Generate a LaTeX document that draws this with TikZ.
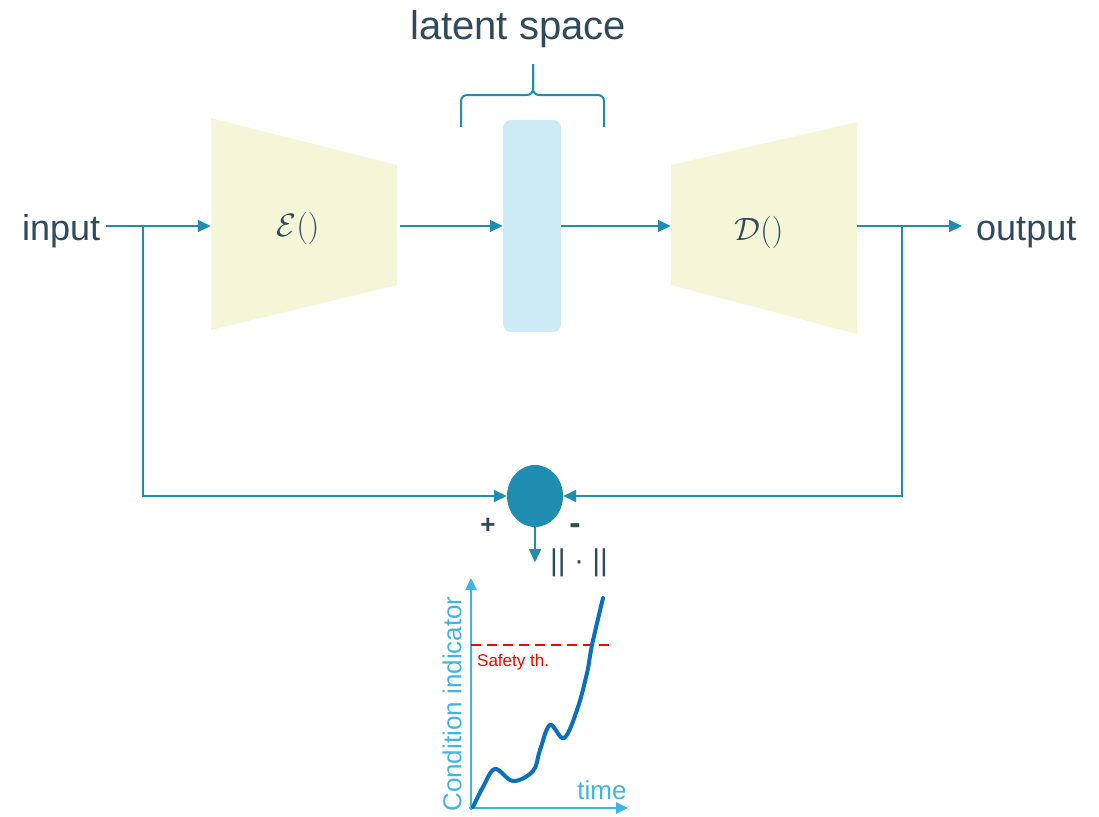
\documentclass[tikz,border=0pt]{standalone}
\usepackage{fontspec}
\setmainfont{Liberation Sans}
\usetikzlibrary{arrows.meta,calc,shapes.geometric}
\definecolor{ink}{HTML}{2E4A5B}
\definecolor{flow}{HTML}{1F8DB0}
\definecolor{block}{HTML}{F5F6D7}
\definecolor{code}{HTML}{CDEBF5}
\definecolor{sky}{HTML}{41B4E6}
\definecolor{trend}{HTML}{0B6FBE}

\begin{document}
\begin{tikzpicture}[x=1pt,y=-1pt,
    wire/.style={flow,line width=1.6pt},
    feed/.style={wire,-{Triangle[length=13pt,width=12pt]}},
    tag/.style={ink,inner sep=0pt},
    fn/.style={tag,font=\Huge,scale=1.3},
    axis/.style={sky,line width=2.5pt,-{Triangle[length=12pt,width=11pt]}}]

    \useasboundingbox (0,0) rectangle (1099,816);

    % encoder and decoder bodies
    \fill[block] (211,118) -- (397,165) -- (397,285) -- (211,330) -- cycle;
    \fill[block] (671,165) -- (857,122) -- (857,334) -- (671,285) -- cycle;

    \node[minimum width=186pt,minimum height=212pt,inner sep=0pt] (enc) at (304,226) {};
    \node[fill=code,rounded corners=8pt,inner sep=0pt,
          minimum width=58pt,minimum height=212pt] (lat) at (532,226) {};
    \node[minimum width=186pt,minimum height=212pt,inner sep=0pt] (dec) at (764,226) {};
    \node[fn] (encl) at (298,228) {$\mathcal{E}()$};
    \node[fn] (decl) at (759,232) {$\mathcal{D}()$};

    \node[tag,font=\fontsize{36}{36}\selectfont,anchor=base west] (in) at (22,240) {input};
    \node[tag,font=\fontsize{36}{36}\selectfont,anchor=base west] (out) at (976,240) {output};
    \node[tag,font=\fontsize{40}{40}\selectfont,anchor=base] (ls) at (518,40) {latent space};

    % brace over the latent code
    \draw[flow,line width=2pt,rounded corners=6pt]
        (461,127) -- (461,95) -- (533,95) -- (533,64);
    \draw[flow,line width=2pt,rounded corners=6pt]
        (604,127) -- (604,95) -- (533,95) -- (533,64);

    % main path
    \draw[feed] ($(in.east |- enc.west)+(6,0)$) -- (enc.west);
    \draw[feed] ($(enc.east)+(3,0)$) -- (lat.west);
    \draw[feed] (lat.east) -- (dec.west);
    \draw[feed] (dec.east) -- ($(out.west |- dec.east)+(-14,0)$);

    % residual
    \node[ellipse,fill=flow,inner sep=0pt,minimum width=56pt,minimum height=62pt] (sum) at (535,496) {};
    \coordinate (tapL) at (143,226);
    \coordinate (tapR) at (902,226);
    \draw[feed] (tapL) |- (sum.west);
    \draw[feed] (tapR) |- (sum.east);
    \draw[feed] (sum.south) -- ++(0,35) coordinate (nrm);

    \node[tag,font=\fontsize{26}{26}\bfseries\selectfont] (plus) at (488,526) {+};
    \node[tag,font=\fontsize{34}{34}\bfseries\selectfont] (minus) at (575,529) {-};
    \node[tag,font=\fontsize{30}{30}\selectfont] (norm) at (579,563) {|| · ||};

    % condition indicator over time
    \draw[axis] (471,810) -- (471,578);
    \draw[axis] (469,808) -- (628,808);
    \draw[red,line width=2.8pt,dash pattern=on 10pt off 6pt] (471,645) -- (610,645);
    \node[red,inner sep=0pt,font=\fontsize{17}{17}\selectfont,anchor=west] (thr) at (477,662) {Safety th.};
    \draw[trend,line width=4pt,line cap=round] plot[smooth,tension=0.6] coordinates
        {(473,807) (483,787) (495,769) (513,781) (533,771) (540,750) (550,725)
         (564,738) (577,710) (587,673) (592,645) (603,598)};
    \node[sky,inner sep=0pt,rotate=90,font=\fontsize{26}{26}\selectfont] (ci) at (452,704) {Condition indicator};
    \node[sky,inner sep=0pt,font=\fontsize{26}{26}\selectfont] (tm) at (602,790) {time};

\end{tikzpicture}
\end{document}
